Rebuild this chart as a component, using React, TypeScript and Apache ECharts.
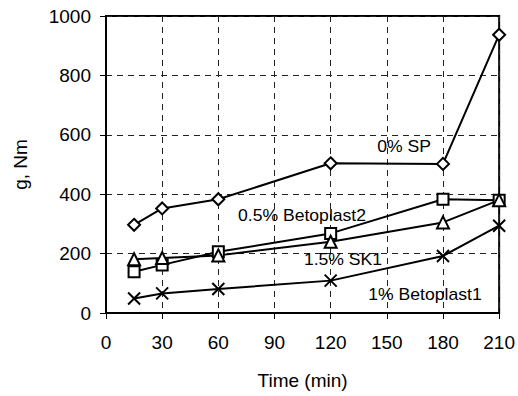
import React, { useEffect, useRef } from "react";
import * as echarts from "echarts";

const times = [15, 30, 60, 120, 180, 210];
const sp0 = [297, 352, 383, 504, 502, 937];
const betoplast2 = [139, 162, 206, 268, 383, 380];
const sk1 = [181, 185, 194, 240, 305, 380];
const betoplast1 = [49, 66, 81, 109, 192, 294];
const xTicks = { min: 0, max: 210, interval: 30 };
const yTicks = { min: 0, max: 1000, interval: 200 };

const FONT = "Liberation Sans, Arial, sans-serif";
const crossPath = "path://M0,0L10,10M10,0L0,10";

function mk(name: string, vals: number[], symbol: string, size: number) {
  return {
    name,
    type: "line",
    data: times.map((t, i) => [t, vals[i]]),
    symbol,
    symbolSize: size,
    showAllSymbol: true,
    lineStyle: { color: "#000", width: 2 },
    itemStyle: { color: symbol === crossPath ? "none" : "#fff", borderColor: "#000", borderWidth: 2 },
    z: 3,
  };
}

export default function App() {
  const ref = useRef<HTMLDivElement>(null);
  useEffect(() => {
    const chart = echarts.init(ref.current!, undefined, { renderer: "svg" });
    const labelStyle = (text: string, x: number, y: number) => ({
      type: "text",
      x,
      y,
      scaleX: 1.1,
      style: { text, fontSize: 16, fontFamily: FONT, fill: "#000", textAlign: "center", textVerticalAlign: "middle" },
      z: 10,
    });
    chart.setOption({
      animation: false,
      backgroundColor: "#fff",
      grid: { left: 106, right: 17, top: 16, bottom: 83, show: true, borderColor: "#000", borderWidth: 2, backgroundColor: "transparent" },
      xAxis: {
        type: "value",
        ...xTicks,
        name: "Time (min)",
        nameLocation: "middle",
        nameGap: 58,
        nameTextStyle: { fontSize: 19, fontFamily: FONT, color: "#000" },
        axisLine: { show: true, lineStyle: { color: "#000", width: 2 } },
        axisTick: { show: true, length: 6, lineStyle: { color: "#000", width: 1 } },
        axisLabel: { fontSize: 19, fontFamily: FONT, color: "#000", margin: 20, formatter: (v: number) => String(v) },
        splitLine: { show: true, lineStyle: { color: "#222", type: [6, 5], width: 1 } },
      },
      yAxis: {
        type: "value",
        ...yTicks,
        name: "g, Nm",
        nameLocation: "middle",
        nameGap: 76,
        nameTextStyle: { fontSize: 19, fontFamily: FONT, color: "#000" },
        axisLine: { show: true, lineStyle: { color: "#000", width: 2 } },
        axisTick: { show: true, length: 6, lineStyle: { color: "#000", width: 1 } },
        axisLabel: { fontSize: 19, fontFamily: FONT, color: "#000", margin: 15, formatter: (v: number) => String(v) },
        splitLine: { show: true, lineStyle: { color: "#222", type: [6, 5], width: 1 } },
      },
      series: [
        mk("0% SP", sp0, "diamond", 12),
        mk("0.5% Betoplast2", betoplast2, "rect", 11),
        mk("1.5% SK1", sk1, "triangle", 12),
        mk("1% Betoplast1", betoplast1, crossPath, 12),
      ],
      graphic: [
        labelStyle("0% SP", 404, 147),
        labelStyle("0.5% Betoplast2", 302, 216),
        labelStyle("1.5% SK1", 343, 260),
        labelStyle("1% Betoplast1", 425, 295),
      ],
    });
    return () => chart.dispose();
  }, []);
  return <div ref={ref} style={{ position: "absolute", left: 0, top: 0, width: 518, height: 396 }} />;
}
